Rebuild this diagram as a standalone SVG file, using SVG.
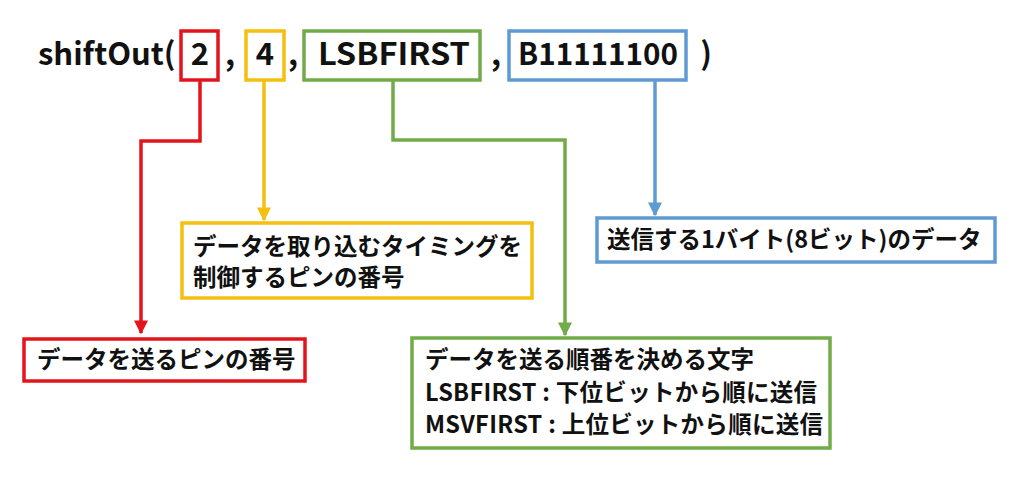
<svg xmlns="http://www.w3.org/2000/svg" width="1024" height="477" viewBox="0 0 1024 477">
<defs>
<style>
.t{font-family:"Noto Sans CJK JP","Noto Sans",sans-serif;font-weight:bold;fill:#111;}
.title{font-size:31px;}
.lbl{font-size:23.5px;}
.box{fill:#fff;stroke-width:3.5;}
.ln{fill:none;stroke-width:3.5;}
.red{stroke:#E3141B;} .yel{stroke:#F5BF0F;} .grn{stroke:#71AC48;} .blu{stroke:#5E9BD3;}
</style>
<marker id="aR" viewBox="0 0 10 10" refX="9" refY="5" markerWidth="4" markerHeight="4" orient="auto" markerUnits="strokeWidth"><path d="M0,0L10,5L0,10z" fill="#E3141B"/></marker>
<marker id="aY" viewBox="0 0 10 10" refX="9" refY="5" markerWidth="4" markerHeight="4" orient="auto" markerUnits="strokeWidth"><path d="M0,0L10,5L0,10z" fill="#F5BF0F"/></marker>
<marker id="aG" viewBox="0 0 10 10" refX="9" refY="5" markerWidth="4" markerHeight="4" orient="auto" markerUnits="strokeWidth"><path d="M0,0L10,5L0,10z" fill="#71AC48"/></marker>
<marker id="aB" viewBox="0 0 10 10" refX="9" refY="5" markerWidth="4" markerHeight="4" orient="auto" markerUnits="strokeWidth"><path d="M0,0L10,5L0,10z" fill="#5E9BD3"/></marker>
</defs>
<rect width="1024" height="477" fill="#fff"/>
<g id="code">
<text class="t title" x="38" y="65">shiftOut(</text>
<rect class="box red" x="181" y="31" width="37" height="49"/>
<text class="t title" x="200" y="65" text-anchor="middle">2</text>
<text class="t title" x="230" y="65" text-anchor="middle">,</text>
<rect class="box yel" x="246" y="31" width="38" height="49"/>
<text class="t title" x="265" y="65" text-anchor="middle">4</text>
<text class="t title" x="293" y="65" text-anchor="middle">,</text>
<rect class="box grn" x="304" y="31" width="176" height="49"/>
<text class="t title" x="318" y="65" textLength="152" lengthAdjust="spacingAndGlyphs">LSBFIRST</text>
<text class="t title" x="496" y="65" text-anchor="middle">,</text>
<rect class="box blu" x="509" y="31" width="177" height="49"/>
<text class="t title" x="518" y="65" textLength="160" lengthAdjust="spacingAndGlyphs">B11111100</text>
<text class="t title" x="706" y="65" text-anchor="middle">)</text>
</g>
<g id="connectors">
<path class="ln red" d="M200,80V141H141V333" marker-end="url(#aR)"/>
<path class="ln yel" d="M264,80V220" marker-end="url(#aY)"/>
<path class="ln grn" d="M393,80V140H565V335" marker-end="url(#aG)"/>
<path class="ln blu" d="M655,80V215" marker-end="url(#aB)"/>
</g>
<g id="node-yellow">
<rect class="box yel" x="182" y="223" width="350" height="75"/>
<text class="t lbl" x="193" y="255">データを取り込むタイミングを</text>
<text class="t lbl" x="193" y="286">制御するピンの番号</text>
</g>
<g id="node-blue">
<rect class="box blu" x="597" y="218" width="398" height="44"/>
<text class="t lbl" x="607" y="248">送信する1バイト(8ビット)のデータ</text>
</g>
<g id="node-red">
<rect class="box red" x="24" y="339" width="281" height="42"/>
<text class="t lbl" x="37" y="368">データを送るピンの番号</text>
</g>
<g id="node-green">
<rect class="box grn" x="412" y="338" width="418" height="110"/>
<text class="t lbl" x="425" y="368">データを送る順番を決める文字</text>
<text class="t lbl" x="425" y="401" textLength="392" lengthAdjust="spacing">LSBFIRST : 下位ビットから順に送信</text>
<text class="t lbl" x="425" y="433" textLength="398" lengthAdjust="spacing">MSVFIRST : 上位ビットから順に送信</text>
</g>
</svg>
